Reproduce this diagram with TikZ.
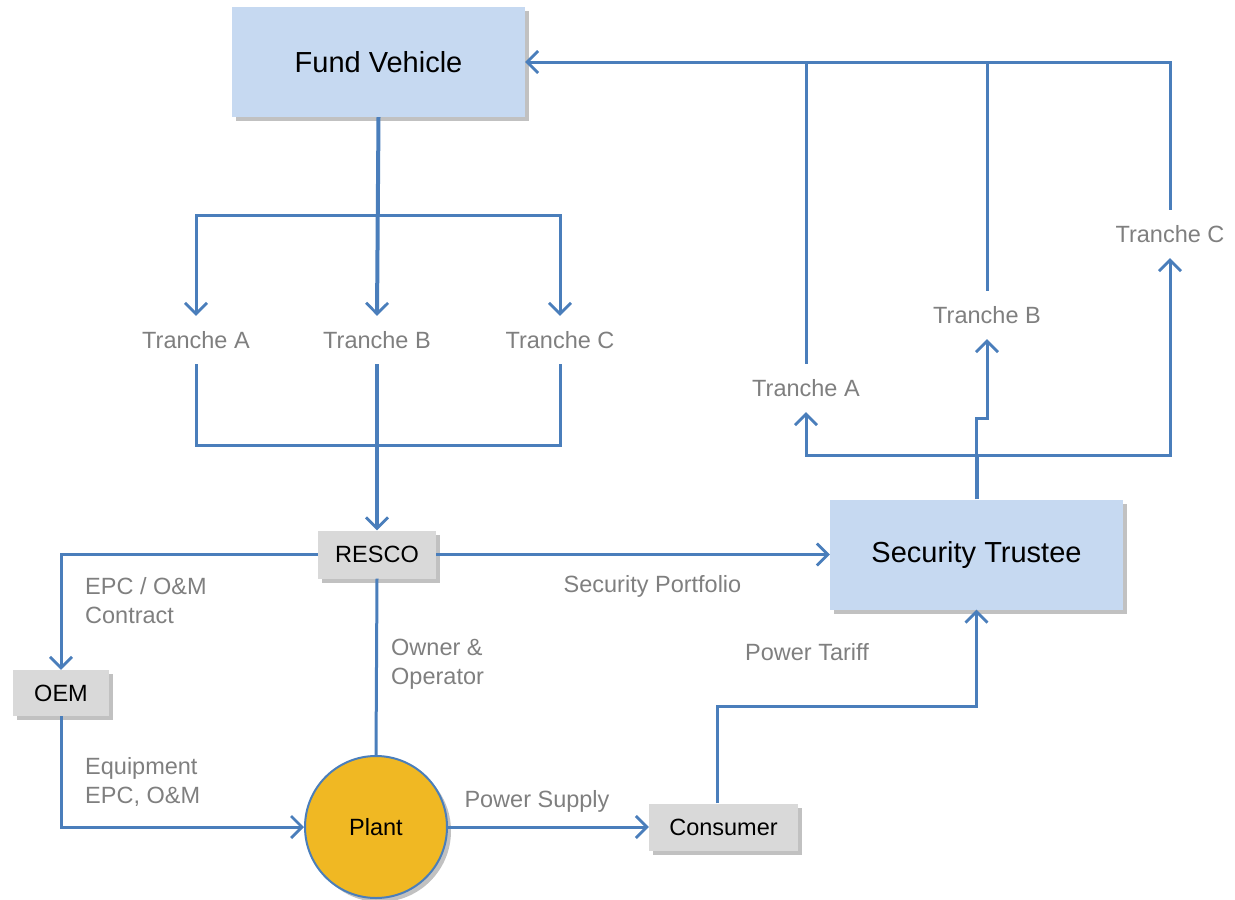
\documentclass[tikz,border=0pt]{standalone}
\usepackage{fontspec}
\setmainfont{Liberation Sans}
\usetikzlibrary{arrows.meta,shadows}
\definecolor{lineblue}{HTML}{4A7EBB}
\definecolor{boxblue}{HTML}{C6D9F1}
\definecolor{boxgray}{HTML}{D9D9D9}
\definecolor{plantfill}{HTML}{F0B823}
\definecolor{labelgray}{HTML}{7F7F7F}
\tikzset{
  conn/.style={draw=lineblue, line width=3pt},
  trunk/.style={conn, line width=4pt},
  arr/.style={conn, -{Straight Barb[length=11pt,width=22pt,line width=2.8pt]}},
  shad/.style={drop shadow={shadow xshift=4pt,shadow yshift=-4pt,opacity=0.35,fill=black!70}},
  bigbox/.style={fill=boxblue, shad, inner sep=0pt, font=\fontsize{29}{34}\selectfont, text=black},
  graybox/.style={fill=boxgray, shad, inner sep=0pt, font=\fontsize{23.5}{28}\selectfont, text=black},
  tranche/.style={inner xsep=2pt, inner ysep=13pt, text height=19pt, text depth=3pt, font=\fontsize{23.5}{28}\selectfont, text=labelgray},
  lbl/.style={inner sep=0pt, font=\fontsize{23.5}{29}\selectfont, text=labelgray, align=left},
}
\begin{document}
\begin{tikzpicture}[x=1pt,y=-1pt]
\useasboundingbox (0,0) rectangle (1235,900);
% main boxes
\node[bigbox, minimum width=293pt, minimum height=110pt] (fv) at (378.5,62) {Fund Vehicle};
\node[bigbox, minimum width=293pt, minimum height=110pt] (st) at (976.5,554.5) {Security Trustee};
\node[graybox, minimum width=118pt, minimum height=48pt] (rs) at (377,554.5) {RESCO};
\node[graybox, minimum width=96pt, minimum height=46pt] (oem) at (61,693) {OEM};
\node[graybox, minimum width=149pt, minimum height=47pt] (cs) at (723.5,827) {Consumer};
\node[circle, fill=plantfill, draw=lineblue, line width=2pt, minimum size=142pt, inner sep=0pt, shad, font=\fontsize{23.5}{28}\selectfont] (pl) at (376,827) {Plant};
% left tranches
\node[tranche] (ta) at (196,340) {Tranche A};
\node[tranche] (tb) at (377,340) {Tranche B};
\node[tranche] (tc) at (560,340) {Tranche C};
% right tranches
\node[tranche] (ra) at (806,388) {Tranche A};
\node[tranche] (rb) at (987,315) {Tranche B};
\node[tranche] (rc) at (1170,234) {Tranche C};
% junctions
\coordinate (j1) at (377,215);
\coordinate (j3) at (377,445);
\coordinate (j2) at (976.5,455);
\coordinate (jb) at (987,418);
\coordinate (c1) at (717,706);
% labels
\node[lbl, anchor=west] (l1) at (85,600.5) {EPC / O\&M\\Contract};
\node[lbl, anchor=west] (l2) at (85,782) {Equipment\\EPC, O\&M};
\node[lbl, anchor=west] (l3) at (391,664) {Owner \&\\Operator};
\node[lbl] (l4) at (652.5,586.5) {Security Portfolio};
\node[lbl] (l5) at (537,801.5) {Power Supply};
\node[lbl] (l6) at (807,652.5) {Power Tariff};
% fund vehicle to tranches
\draw[trunk, -{Straight Barb[length=11pt,width=22pt,line width=2.8pt]}] (fv.south) -- (tb.north);
\draw[arr] (j1) -| (ta.north);
\draw[arr] (j1) -| (tc.north);
% tranches to RESCO
\draw[conn] (ta.south) |- (j3);
\draw[conn] (tc.south) |- (j3);
\draw[trunk, -{Straight Barb[length=11pt,width=22pt,line width=2.8pt]}] (tb.south) -- (rs.north);
% RESCO connections
\draw[arr] (rs.west) -| (oem.north);
\draw[arr] (oem.south) |- (pl.west);
\draw[conn] (rs.south) -- (pl.north);
\draw[arr] (pl.east) -- (cs.west);
\draw[arr] (rs.east) -- (st.west);
\draw[arr] ([xshift=-6.5pt]cs.north) |- (c1 -| st.south) -- (st.south);
% trustee to right tranches
\draw[trunk] (st.north) -- (j2);
\draw[arr] (j2) -| (ra.south);
\draw[arr] (j2) -| (rc.south);
\draw[arr] (j2) |- (jb) -- (rb.south);
% right tranches to fund vehicle
\draw[arr] (rc.north) |- (fv.east);
\draw[conn] (ra.north) -- (ra.north |- fv.east);
\draw[conn] (rb.north) -- (rb.north |- fv.east);
\end{tikzpicture}
\end{document}
